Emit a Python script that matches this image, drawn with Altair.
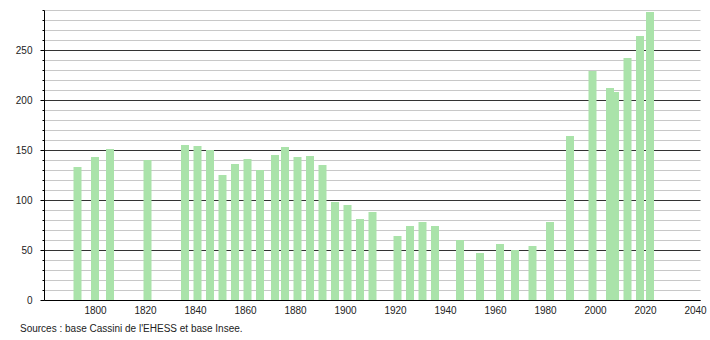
import altair as alt
import pandas as pd

years = [1793, 1800, 1806, 1821, 1836, 1841, 1846, 1851, 1856, 1861, 1866, 1872,
         1876, 1881, 1886, 1891, 1896, 1901, 1906, 1911, 1921, 1926, 1931, 1936,
         1946, 1954, 1962, 1968, 1975, 1982, 1990, 1999, 2006, 2008, 2013, 2018, 2022]
population = [133, 143, 151, 140, 155, 154, 150, 125, 136, 141, 130, 145,
              153, 143, 144, 135, 98, 95, 81, 88, 64, 74, 78, 74,
              60, 47, 56, 50, 54, 78, 164, 229, 212, 208, 242, 264, 288]
x_labels = list(range(1800, 2041, 20))
y_grid = list(range(0, 291, 10))
source = "Sources : base Cassini de l'EHESS et base Insee."

df = pd.DataFrame({"year": years, "pop": population})

font = "Liberation Sans"

chart = alt.Chart(df).mark_bar(size=8, color="#aae3aa").encode(
    x=alt.X("year:Q",
            scale=alt.Scale(domain=[1779.6, 2042], nice=False, zero=False, padding=0),
            axis=alt.Axis(values=x_labels, format="d", title=None, grid=False,
                          ticks=False, labelPadding=5, domainColor="#000",
                          labelFont=font, labelFontSize=10, labelColor="#222")),
    y=alt.Y("pop:Q",
            scale=alt.Scale(domain=[0, 290], nice=False),
            axis=alt.Axis(values=y_grid, title=None, grid=True,
                          gridColor=alt.condition("datum.value % 50 === 0",
                                                  alt.value("#333333"), alt.value("#c8c8c8")),
                          gridWidth=1,
                          labelExpr="datum.value % 50 === 0 ? datum.label : ''",
                          tickSize=alt.condition("datum.value % 50 === 0",
                                                 alt.value(4), alt.value(2)),
                          tickColor="#000", domainColor="#000",
                          labelPadding=8, labelFont=font, labelFontSize=10,
                          labelColor="#222")),
).properties(
    width=656, height=290,
    title=alt.TitleParams(source, orient="bottom", anchor="start", frame="group",
                          dx=-24, offset=9, fontSize=10, font=font,
                          fontWeight="normal", color="#222"),
).configure_view(stroke=None).properties(
    autosize=alt.AutoSizeParams(type="none"),
    padding={"left": 44, "top": 10, "right": 10, "bottom": 40},
)

chart.save("out.html", embed_options={"renderer": "svg", "actions": False})
